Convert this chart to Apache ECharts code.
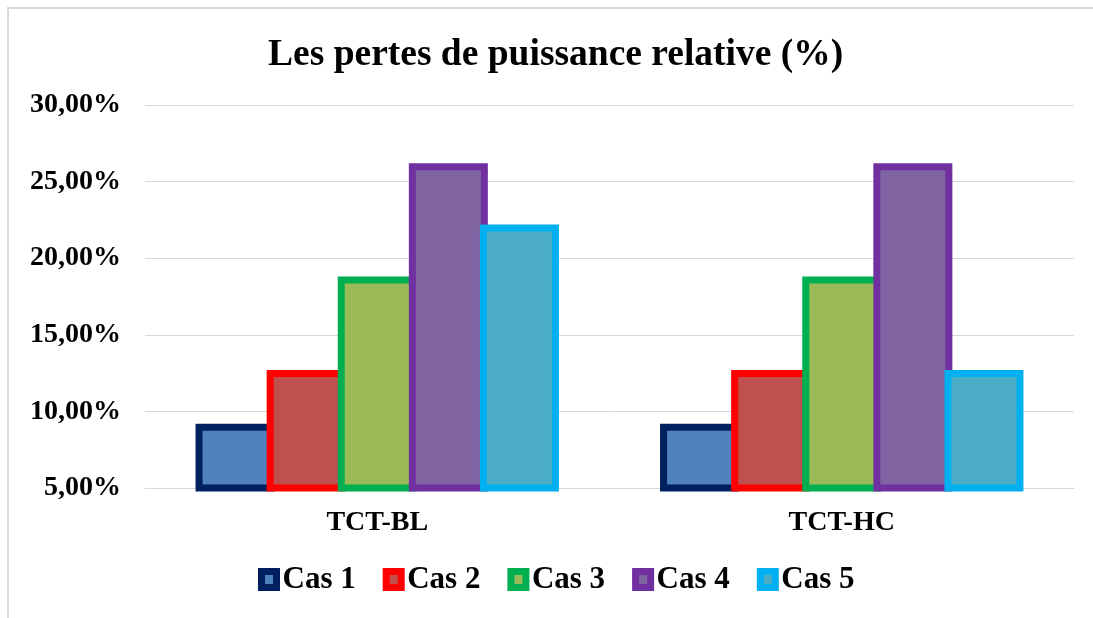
<!DOCTYPE html>
<html>
<head>
<meta charset="utf-8">
<title>Les pertes de puissance relative (%)</title>
<script src="https://cdn.jsdelivr.net/npm/echarts@6/dist/echarts.min.js"></script>
<style>
  html, body { margin: 0; padding: 0; background: #ffffff; }
  #chart { width: 1093px; height: 618px; }
</style>
</head>
<body>
<div id="chart"></div>
<script>
// Relative power losses (%) per configuration and case
const categories = ['TCT-BL', 'TCT-HC'];
const seriesNames = ['Cas 1', 'Cas 2', 'Cas 3', 'Cas 4', 'Cas 5'];
const cas1 = [9.2, 9.2];
const cas2 = [12.7, 12.7];
const cas3 = [18.8, 18.8];
const cas4 = [26.2, 26.2];
const cas5 = [22.2, 12.7];
const yTicks = [5, 10, 15, 20, 25, 30];

const seriesValues = [cas1, cas2, cas3, cas4, cas5];
const fills = ['#4f81bd', '#c0504d', '#9bbb59', '#8064a2', '#4bacc6'];
const borders = ['#002060', '#ff0000', '#00b050', '#7030a0', '#00b0f0'];

const serif = '"Liberation Serif", "Times New Roman", serif';

function pct(v) {
  return v.toFixed(2).replace('.', ',') + '%';
}

const chart = echarts.init(document.getElementById('chart'), null, { renderer: 'canvas' });

chart.setOption({
  backgroundColor: '#ffffff',
  animation: false,
  graphic: [{
    type: 'rect',
    shape: { x: 8, y: 8, width: 1200, height: 700 },
    style: { fill: 'none', stroke: '#d9d9d9', lineWidth: 2 },
    silent: true,
    z: -1
  }],
  title: {
    text: 'Les pertes de puissance relative (%)',
    left: 263,
    top: 31,
    textStyle: { fontFamily: serif, fontWeight: 'bold', fontSize: 37.5, color: '#000000' }
  },
  legend: {
    data: seriesNames,
    left: 253,
    top: 559,
    itemWidth: 15,
    itemHeight: 16,
    itemGap: 27,
    icon: 'rect',
    itemStyle: { borderWidth: 7 },
    textStyle: { fontFamily: serif, fontWeight: 'bold', fontSize: 31, color: '#000000', padding: [0, 0, 0, 1] }
  },
  grid: { left: 145, right: 19, top: 105, bottom: 130 },
  xAxis: {
    type: 'category',
    data: categories,
    axisTick: { show: false },
    axisLine: { show: true, lineStyle: { color: '#d9d9d9', width: 1 } },
    axisLabel: { margin: 21, fontFamily: serif, fontWeight: 'bold', fontSize: 28, color: '#000000' }
  },
  yAxis: {
    type: 'value',
    min: yTicks[0],
    max: yTicks[yTicks.length - 1],
    interval: 5,
    axisLine: { show: false },
    axisTick: { show: false },
    splitLine: { lineStyle: { color: '#d9d9d9', width: 1 } },
    axisLabel: {
      margin: 24,
      fontFamily: serif,
      fontWeight: 'bold',
      fontSize: 28,
      color: '#000000',
      formatter: pct
    }
  },
  series: seriesNames.map((name, i) => ({
    name: name,
    type: 'bar',
    data: seriesValues[i],
    barWidth: 79,
    barGap: '-10%',
    clip: true,
    itemStyle: { color: fills[i], borderColor: borders[i], borderWidth: 7 }
  }))
});
</script>
</body>
</html>
